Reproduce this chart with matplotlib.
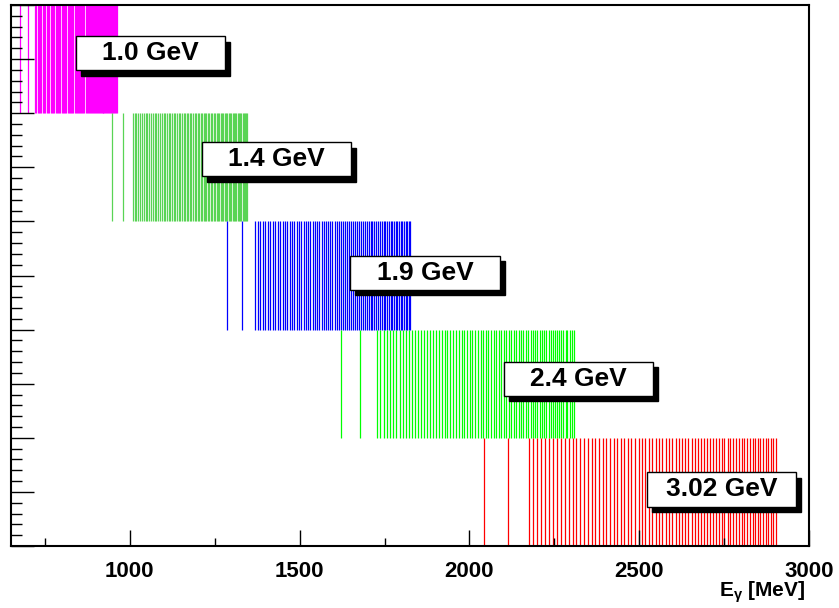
import matplotlib
matplotlib.use('Agg')
import matplotlib.pyplot as plt
from matplotlib.patches import Rectangle
from matplotlib.ticker import MultipleLocator, NullFormatter

# --- data ---
# tagger channel energies (MeV)
channels_302 = [2042, 2113,
                2175, 2187, 2199, 2211, 2223, 2234, 2246, 2258, 2269, 2281,
                2292, 2304, 2315, 2326, 2337, 2349, 2360, 2371, 2382, 2392,
                2403, 2414, 2425, 2435, 2446, 2456, 2467, 2477, 2488, 2498,
                2508, 2518, 2528, 2538, 2548, 2558, 2568, 2578, 2587, 2597,
                2607, 2616, 2626, 2635, 2644, 2654, 2663, 2672, 2681, 2690,
                2699, 2708, 2717, 2725, 2734, 2743, 2751, 2760, 2768, 2777,
                2785, 2793, 2802, 2810, 2818, 2826, 2834, 2842, 2849, 2857,
                2865, 2873, 2880, 2888, 2895, 2903]
beam_energies = [1000, 1400, 1900, 2400, 3020]   # MeV
band_labels = ['1.0 GeV', '1.4 GeV', '1.9 GeV', '2.4 GeV', '3.02 GeV']
band_colors = ['#ff00ff', '#59d454', '#0000ff', '#00ff00', '#ff0000']

# label box lower-left corners (MeV, y)
box_pos = [(841, 8.79), (1211, 6.83), (1649, 4.73), (2101, 2.77), (2522, 0.73)]
BOX_W, BOX_H = 440, 0.63
SH_X, SH_Y = 15, 0.095

plt.rcParams['font.family'] = ['Liberation Sans', 'DejaVu Sans']
plt.rcParams['mathtext.fontset'] = 'custom'
plt.rcParams['mathtext.rm'] = 'Liberation Sans:bold'
plt.rcParams['mathtext.it'] = 'Liberation Sans:bold'
plt.rcParams['mathtext.bf'] = 'Liberation Sans:bold'

fig = plt.figure(figsize=(8.39, 6.08), dpi=100)
ax = fig.add_axes([11/839, 62/608, 798/839, 541/608])

for i, (e0, col) in enumerate(zip(beam_energies, band_colors)):
    xs = [c * e0 / 3020.0 for c in channels_302]
    top = 10 - 2 * i
    ax.vlines(xs, top - 2, top, colors=col, linewidth=0.9, zorder=1)

for (x0, y0), lab in zip(box_pos, band_labels):
    ax.add_patch(Rectangle((x0 + SH_X, y0 - SH_Y), BOX_W, BOX_H,
                           facecolor='black', edgecolor='black', zorder=3))
    ax.add_patch(Rectangle((x0, y0), BOX_W, BOX_H, facecolor='white',
                           edgecolor='black', linewidth=1.0, zorder=4))
    ax.text(x0 + BOX_W / 2, y0 + BOX_H / 2, lab, ha='center', va='center',
            fontsize=19, fontweight='bold', zorder=5)

ax.set_xlim(650, 3000)
ax.set_ylim(0, 10)

ax.xaxis.set_major_locator(MultipleLocator(500))
ax.xaxis.set_minor_locator(MultipleLocator(250))
ax.yaxis.set_major_locator(MultipleLocator(1))
ax.yaxis.set_minor_locator(MultipleLocator(0.2))
ax.yaxis.set_major_formatter(NullFormatter())

ax.tick_params(axis='x', which='major', direction='in', length=11.5, width=1,
               labelsize=16, pad=11, top=False)
ax.tick_params(axis='x', which='minor', direction='in', length=5.8, width=1,
               top=False)
ax.tick_params(axis='y', which='major', direction='in', length=16.3, width=1,
               right=False)
ax.tick_params(axis='y', which='minor', direction='in', length=8, width=1,
               right=False)
for lab in ax.get_xticklabels():
    lab.set_fontweight('bold')
for sp in ax.spines.values():
    sp.set_linewidth(1.5)

fig.text(805/839, 1 - 597/608, r'E$_{\gamma}$ [MeV]',
         ha='right', va='baseline', fontsize=15, fontweight='bold')

fig.savefig('out.png', dpi=100)
